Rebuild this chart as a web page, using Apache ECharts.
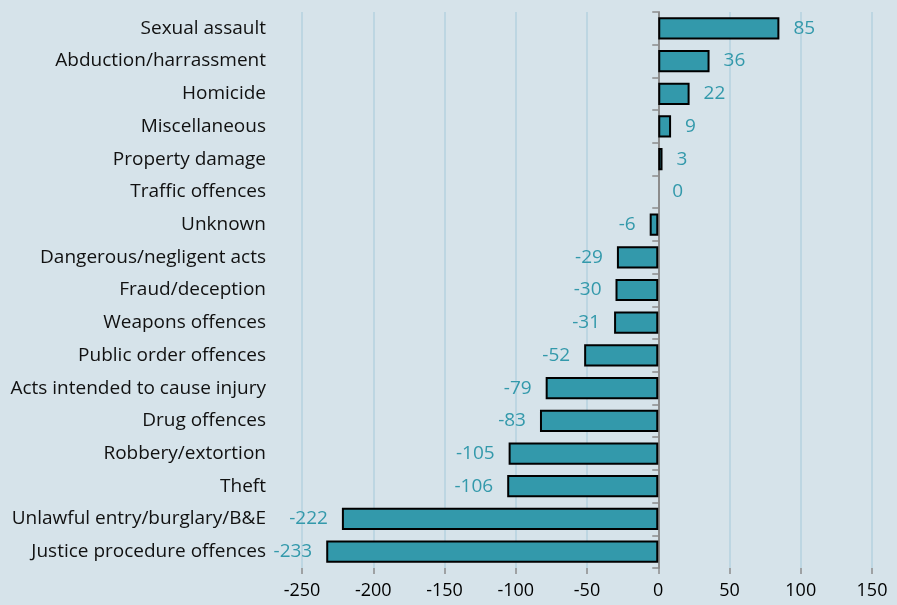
<!DOCTYPE html>
<html>
<head>
<meta charset="utf-8">
<script src="https://cdn.jsdelivr.net/npm/echarts@6/dist/echarts.min.js"></script>
<style>
  html, body { margin: 0; padding: 0; background: #d6e3ea; }
  #chart { width: 897px; height: 605px; }
</style>
</head>
<body>
<div id="chart"></div>
<script>
// offence categories, top to bottom
const categories = [
  'Sexual assault', 'Abduction/harrassment', 'Homicide', 'Miscellaneous',
  'Property damage', 'Traffic offences', 'Unknown', 'Dangerous/negligent acts',
  'Fraud/deception', 'Weapons offences', 'Public order offences',
  'Acts intended to cause injury', 'Drug offences', 'Robbery/extortion',
  'Theft', 'Unlawful entry/burglary/B&E', 'Justice procedure offences'
];
const changes = [85, 36, 22, 9, 3, 0, -6, -29, -30, -31, -52, -79, -83, -105, -106, -222, -233];
const xTicks = [-250, 150, 50]; // min, max, step

const fontFam = '"Open Sans", sans-serif';
const teal = '#3399ab';

const mychart = echarts.init(document.getElementById('chart'));
mychart.setOption({
  backgroundColor: '#d6e3ea',
  animation: false,
  grid: { left: 302, right: 25, top: 12, bottom: 37 },
  xAxis: {
    type: 'value',
    min: xTicks[0],
    max: xTicks[1],
    interval: xTicks[2],
    axisLine: { onZero: false, lineStyle: { color: '#8c8c8c', width: 1.5 } },
    axisTick: { show: true, length: 6, lineStyle: { color: '#8c8c8c', width: 1.5 } },
    axisLabel: { color: '#000', fontSize: 18, fontFamily: fontFam, margin: 14 },
    splitLine: { lineStyle: { color: '#b5d2df', width: 1.5 } }
  },
  yAxis: [
    {
      // labels only, on the left
      type: 'category',
      data: categories,
      inverse: true,
      position: 'left',
      axisLine: { show: false, onZero: false },
      axisTick: { show: false },
      axisLabel: { color: '#111', fontSize: 19, fontFamily: fontFam, margin: 36 }
    },
    {
      // the line at zero with its ticks
      type: 'category',
      data: categories,
      inverse: true,
      position: 'left',
      axisLine: { show: true, onZero: true, lineStyle: { color: '#8c8c8c', width: 2 } },
      axisTick: { show: true, length: 6, lineStyle: { color: '#8c8c8c', width: 1.5 } },
      axisLabel: { show: false }
    }
  ],
  series: [
    {
      type: 'bar',
      yAxisIndex: 0,
      barCategoryGap: '32%',
      itemStyle: { color: teal, borderColor: '#000', borderWidth: 2 },
      label: {
        show: true,
        color: teal,
        fontSize: 19,
        fontFamily: fontFam,
        distance: 14,
        position: 'right'
      },
      // negative bars get their labels on the left; a zero bar has no outline
      data: changes.map(function (v) {
        if (v < 0) return { value: v, label: { position: 'left' } };
        if (v === 0) return { value: v, itemStyle: { borderWidth: 0 } };
        return v;
      })
    }
  ]
});
</script>
</body>
</html>
